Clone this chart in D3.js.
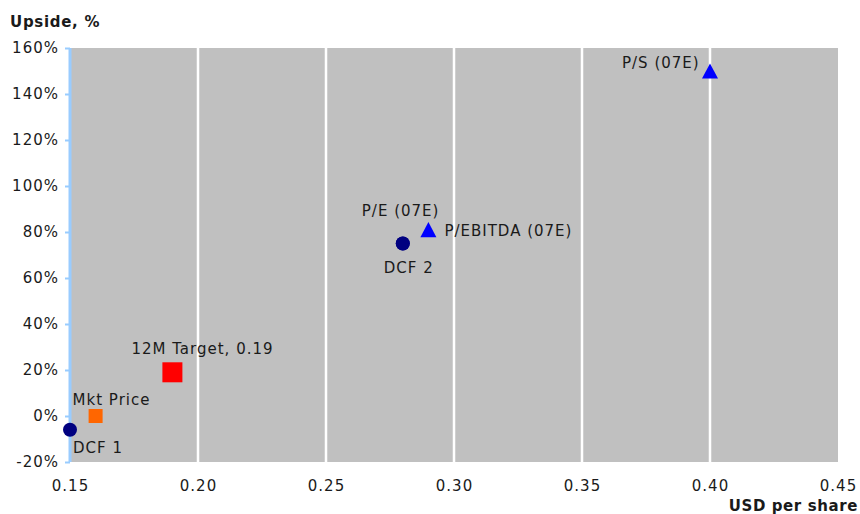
<!DOCTYPE html>
<html>
<head>
<meta charset="utf-8">
<script src="https://cdn.jsdelivr.net/npm/d3@7"></script>
<style>
  html, body { margin: 0; padding: 0; background: #fff; }
  svg text { font-family: "DejaVu Sans", Verdana, sans-serif; fill: #1a1a1a; }
</style>
</head>
<body>
<svg id="chart" width="860" height="514"></svg>
<script>
// Valuation points: price per share (USD) against upside (%)
const names   = ["DCF 1", "Mkt Price", "12M Target, 0.19", "P/E (07E)", "DCF 2", "P/EBITDA (07E)", "P/S (07E)"];
const prices  = [0.15, 0.16, 0.19, 0.28, 0.28, 0.29, 0.40];
const upsides = [-6, 0, 19, 75, 75, 81, 150];
const kinds   = ["dcf", "market", "target", "dcf", "dcf", "multiple", "multiple"];

const xTicks = [0.15, 0.20, 0.25, 0.30, 0.35, 0.40, 0.45];
const yTicks = [-20, 0, 20, 40, 60, 80, 100, 120, 140, 160];

// marker look per kind
const markerStyle = {
  dcf:      { shape: "circle",   color: "#000080", size: 14 },
  market:   { shape: "square",   color: "#FF6600", size: 14 },
  target:   { shape: "square",   color: "#FF0000", size: 20 },
  multiple: { shape: "triangle", color: "#0000FF", size: 16 }
};
// label offset from its marker (dx, dy to text start / baseline)
const labelOffset = {
  "DCF 1":            [3, 23],
  "Mkt Price":        [-23, -11],
  "12M Target, 0.19": [-41, -18],
  "P/E (07E)":        [-41, -28],
  "DCF 2":            [-19, 29],
  "P/EBITDA (07E)":   [16, 6],
  "P/S (07E)":        [-88, -3]
};

const svg = d3.select("#chart");
const m = { left: 70, right: 22, top: 48, bottom: 52 };
const W = 860, H = 514;
const LS = "1px";

const x = d3.scaleLinear().domain([0.15, 0.45]).range([m.left, W - m.right]);
const y = d3.scaleLinear().domain([-20, 160]).range([H - m.bottom, m.top]);

// plot background
svg.append("rect")
  .attr("x", x(0.15)).attr("y", y(160))
  .attr("width", x(0.45) - x(0.15)).attr("height", y(-20) - y(160))
  .attr("fill", "#C0C0C0");

// vertical gridlines
svg.append("g").selectAll("line")
  .data(xTicks.filter(t => t > 0.15 && t < 0.45))
  .join("line")
  .attr("x1", d => x(d)).attr("x2", d => x(d))
  .attr("y1", y(160)).attr("y2", y(-20))
  .attr("stroke", "#fff").attr("stroke-width", 2.5);

// y axis
const yAxis = svg.append("g")
  .attr("transform", `translate(${m.left},0)`)
  .call(d3.axisLeft(y).tickValues(yTicks).tickSize(5).tickPadding(6).tickFormat(d => d + "%"));
yAxis.select(".domain").attr("stroke", "#99CCFF").attr("stroke-width", 3).attr("d", `M0,${y(160)}V${y(-20)}`);
yAxis.selectAll(".tick line").attr("stroke", "#99CCFF").attr("stroke-width", 2);
yAxis.selectAll(".tick text").attr("font-size", 15).attr("fill", "#1a1a1a")
  .style("letter-spacing", LS)
  .style("font-family", "'DejaVu Sans', Verdana, sans-serif");

// x axis (labels only)
const xAxis = svg.append("g")
  .attr("transform", `translate(0,${y(-20)})`)
  .call(d3.axisBottom(x).tickValues(xTicks).tickSize(0).tickPadding(18).tickFormat(d3.format(".2f")));
xAxis.select(".domain").remove();
xAxis.selectAll(".tick text").attr("font-size", 15).attr("fill", "#1a1a1a")
  .style("letter-spacing", LS)
  .style("font-family", "'DejaVu Sans', Verdana, sans-serif");

// axis titles
svg.append("text").attr("x", 10).attr("y", 27)
  .attr("font-size", 15).attr("font-weight", "bold").style("letter-spacing", "0.7px").text("Upside, %");
svg.append("text").attr("x", 858).attr("y", 511).attr("text-anchor", "end")
  .attr("font-size", 15).attr("font-weight", "bold").style("letter-spacing", "0.6px").text("USD per share");

// markers
const pts = names.map((n, i) => ({ name: n, px: prices[i], up: upsides[i], kind: kinds[i] }));
const mk = svg.append("g");
pts.forEach(p => {
  const s = markerStyle[p.kind];
  const cx = x(p.px), cy = y(p.up);
  if (s.shape === "circle") {
    mk.append("circle").attr("cx", cx).attr("cy", cy).attr("r", s.size / 2).attr("fill", s.color);
  } else if (s.shape === "square") {
    mk.append("rect").attr("x", cx - s.size / 2).attr("y", cy - s.size / 2)
      .attr("width", s.size).attr("height", s.size).attr("fill", s.color);
  } else {
    const h = s.size * 0.95;
    mk.append("path")
      .attr("d", `M${cx},${cy - h / 2}L${cx + s.size / 2},${cy + h / 2}L${cx - s.size / 2},${cy + h / 2}Z`)
      .attr("fill", s.color);
  }
});

// point labels
svg.append("g").selectAll("text")
  .data(pts)
  .join("text")
  .attr("x", d => x(d.px) + labelOffset[d.name][0])
  .attr("y", d => y(d.up) + labelOffset[d.name][1])
  .attr("font-size", 15)
  .style("letter-spacing", LS)
  .text(d => d.name);
</script>
</body>
</html>
